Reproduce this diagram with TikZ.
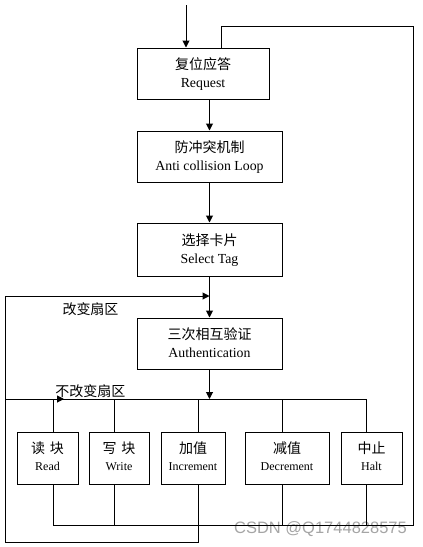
\documentclass[tikz,border=0pt]{standalone}
\usepackage{fontspec}
\setmainfont{Liberation Serif}
\newfontfamily\cjk{Noto Sans CJK SC}
\newfontfamily\wmfont{Liberation Sans}
\usetikzlibrary{arrows.meta}
\newcommand\zhtxt[1]{{\cjk\fontsize{14}{17.5}\selectfont #1}}
\begin{document}
\begin{tikzpicture}[x=1pt,y=-1pt,
  line width=1pt,
  bigbox/.style={draw, line width=1pt, inner sep=0pt, align=center,
    font=\fontsize{13.8}{17.5}\selectfont, text height=30pt, text depth=3pt},
  smallbox/.style={draw, line width=1pt, inner sep=0pt, align=center,
    font=\fontsize{12}{17.5}\selectfont, text height=28.6pt, text depth=3pt,
    minimum height=52pt},
  arr/.style={-{Triangle[length=7pt,width=7pt]}},
  lbl/.style={inner sep=0pt, font=\cjk\fontsize{14}{16}\selectfont},
  wm/.style={inner sep=0pt, text={rgb,255:red,165;green,165;blue,165}, font=\wmfont\fontsize{16.5}{18}\selectfont}
]
\useasboundingbox (0,0) rectangle (423,547);

% main boxes
\node[bigbox, minimum width=132pt, minimum height=51pt] (req) at (203,73.5) {\zhtxt{复位应答}\\Request};
\node[bigbox, minimum width=145pt, minimum height=51pt] (anti) at (209.5,156.5) {\zhtxt{防冲突机制}\\Anti collision Loop};
\node[bigbox, minimum width=145pt, minimum height=53pt] (sel) at (209.5,249.5) {\zhtxt{选择卡片}\\Select Tag};
\node[bigbox, minimum width=145pt, minimum height=51pt] (auth) at (209.5,343.5) {\zhtxt{三次相互验证}\\Authentication};

% bottom boxes
\node[smallbox, minimum width=61pt] (read) at (47.5,458) {\zhtxt{读\hspace{5pt}块}\\Read};
\node[smallbox, minimum width=60pt] (write) at (119,458) {\zhtxt{写\hspace{5pt}块}\\Write};
\node[smallbox, minimum width=64pt] (inc) at (193,458) {\zhtxt{加值}\\Increment};
\node[smallbox, minimum width=84pt] (dec) at (287,458) {\zhtxt{减值}\\Decrement};
\node[smallbox, minimum width=61pt] (halt) at (371.5,458) {\zhtxt{中止}\\Halt};

% labels
\node[lbl] (chg) at (90.5,309) {改变扇区};
\node[lbl] (nochg) at (90.5,391) {不改变扇区};
\node[wm] (mark) at (320.5,529) {CSDN @Q1744828575};

% coordinates
\coordinate (entry) at (186,5);
\coordinate (bus) at (209.5,399);
\coordinate (busL) at (5,399);
\coordinate (busR) at (366,399);
\coordinate (loopTop) at (413,26);
\coordinate (loopBot) at (413,525);
\coordinate (retL) at (5,542);
\coordinate (retT) at (5,296);
\coordinate (tRead) at (53,399);
\coordinate (tWrite) at (114,399);
\coordinate (tInc) at (198,399);
\coordinate (tDec) at (282,399);
\coordinate (bRead) at (53,525);
\coordinate (bWrite) at (114,525);
\coordinate (bDec) at (282,525);
\coordinate (bHalt) at (366,525);
\coordinate (bInc) at (198,542);
\coordinate (lTop) at (221,26);
\coordinate (nochgTip) at (64,399);

% main flow
\draw[arr] (entry) -- (entry |- req.north);
\draw[arr] (anti.north |- req.south) -- (anti.north);
\draw[arr] (anti.south) -- (sel.north);
\draw[arr] (sel.south) -- (auth.north);
\draw[arr] (auth.south) -- (bus);

% bus to the five operations
\draw (busL) -- (busR);
\draw[arr] (busL) -- (nochgTip);
\draw (tRead) -- (tRead |- read.north);
\draw (tWrite) -- (tWrite |- write.north);
\draw (tInc) -- (tInc |- inc.north);
\draw (tDec) -- (tDec |- dec.north);
\draw (busR) -- (busR |- halt.north);

% return to request
\draw (bRead |- read.south) -- (bRead) -- (loopBot) -- (loopTop) -- (lTop) -- (lTop |- req.north);
\draw (bWrite |- write.south) -- (bWrite);
\draw (bDec |- dec.south) -- (bDec);
\draw (bHalt |- halt.south) -- (bHalt);

% return from increment
\draw (bInc |- inc.south) -- (bInc) -- (retL) -- (retT);
\draw[arr] (retT) -- (sel.south |- retT);
\end{tikzpicture}
\end{document}
